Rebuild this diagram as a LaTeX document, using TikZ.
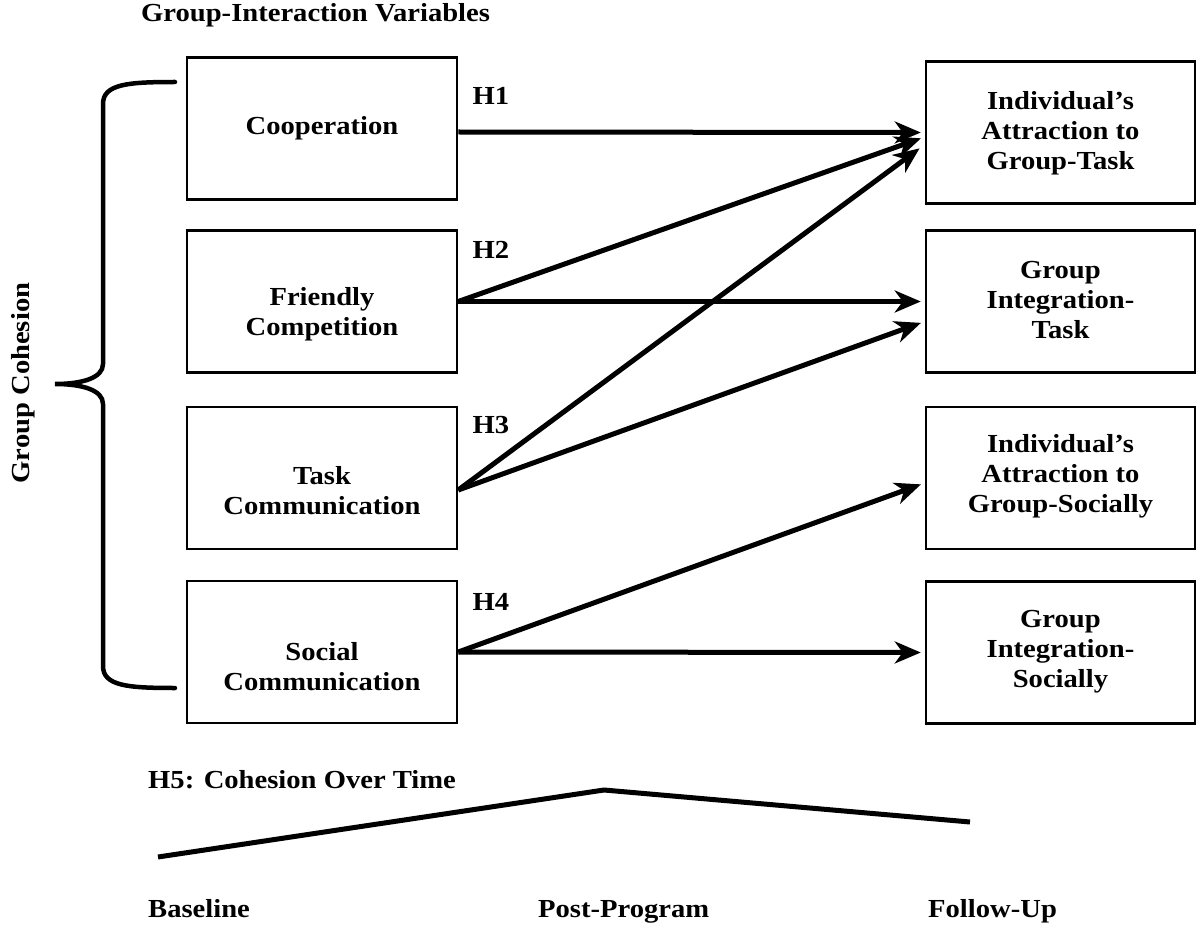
\documentclass[tikz,border=0pt]{standalone}
\usepackage{fontspec}
\setmainfont{Liberation Serif}[FakeStretch=1.1]
\usetikzlibrary{arrows.meta,calc}
\begin{document}
\begin{tikzpicture}[x=1pt,y=-1pt,
  every node/.style={font=\fontsize{26}{30}\selectfont\bfseries},
  boxs/.style={draw,line width=2.5pt,minimum width=270pt,minimum height=142pt,inner sep=0pt},
  txt/.style={align=center,inner sep=0pt},
  arr/.style={line width=5pt,-{Stealth[length=26pt,width=22pt,inset=8pt]},shorten >=4pt},
  hl/.style={inner sep=0pt}
]
\useasboundingbox (0,0) rectangle (1200,928);
% left boxes
\node[boxs] (c1) at (322,128.5) {};
\node[boxs] (c2) at (322,301.5) {};
\node[boxs] (c3) at (322,478) {};
\node[boxs] (c4) at (322,652) {};
\node[txt] (t1) at (322,128) {Cooperation};
\node[txt] (t2) at (322,314) {Friendly\\Competition};
\node[txt] (t3) at (322,491) {Task\\Communication};
\node[txt] (t4) at (322,667) {Social\\Communication};
% right boxes
\node[boxs,minimum width=269pt] (r1) at (1060.5,132.5) {};
\node[boxs,minimum width=269pt] (r2) at (1060.5,301.5) {};
\node[boxs,minimum width=269pt] (r3) at (1060.5,478) {};
\node[boxs,minimum width=269pt] (r4) at (1060.5,652.5) {};
\node[txt] (s1) at (1060.5,133) {Individual’s\\Attraction to\\Group-Task};
\node[txt] (s2) at (1060.5,300) {Group\\Integration-\\Task};
\node[txt] (s3) at (1060.5,476) {Individual’s\\Attraction to\\Group-Socially};
\node[txt] (s4) at (1060.5,652) {Group\\Integration-\\Socially};
% arrows
\draw[arr] ([yshift=-3.5pt]c1.east) -- (r1.west);
\draw[arr] (c2.east) -- ([yshift=-4.5pt]r1.west);
\draw[arr] (c2.east) -- (r2.west);
\draw[arr] ([yshift=-12pt]c3.east) -- ([yshift=-13.5pt,xshift=-2pt]r1.west);
\draw[arr] ([yshift=-12pt]c3.east) -- ([yshift=-20pt]r2.west);
\draw[arr] (c4.east) -- ([yshift=-5pt]r3.west);
\draw[arr] (c4.east) -- (r4.west);
% H labels
\node[hl] (h1) at (491,96) {H1};
\node[hl] (h2) at (491,250) {H2};
\node[hl] (h3) at (491,425) {H3};
\node[hl] (h4) at (491,602) {H4};
% titles
\node[hl,anchor=base west] (title) at (141,22) {Group-Interaction Variables};
\node[hl,rotate=90] (gc) at (23,383) {Group Cohesion};
% brace
\draw[line width=4.5pt,line cap=round] (175,82) .. controls (128,82) and (103,84) .. (103,104) -- (103,364) .. controls (103,378) and (82,384) .. (55,384) .. controls (82,384) and (103,390) .. (103,404) -- (103,666) .. controls (103,686) and (128,688) .. (175,688);
% H5
\node[hl,anchor=base west] (h5) at (148,788) {H5: Cohesion Over Time};
\coordinate (p0) at (158,857);
\coordinate (p1) at (604,790);
\coordinate (p2) at (970,822);
\draw[line width=5pt,line join=round] (p0) -- (p1) -- (p2);
\node[hl,anchor=base west] (b1) at (148,917) {Baseline};
\node[hl,anchor=base west] (b2) at (538,917) {Post-Program};
\node[hl,anchor=base west] (b3) at (928,917) {Follow-Up};
\end{tikzpicture}
\end{document}
